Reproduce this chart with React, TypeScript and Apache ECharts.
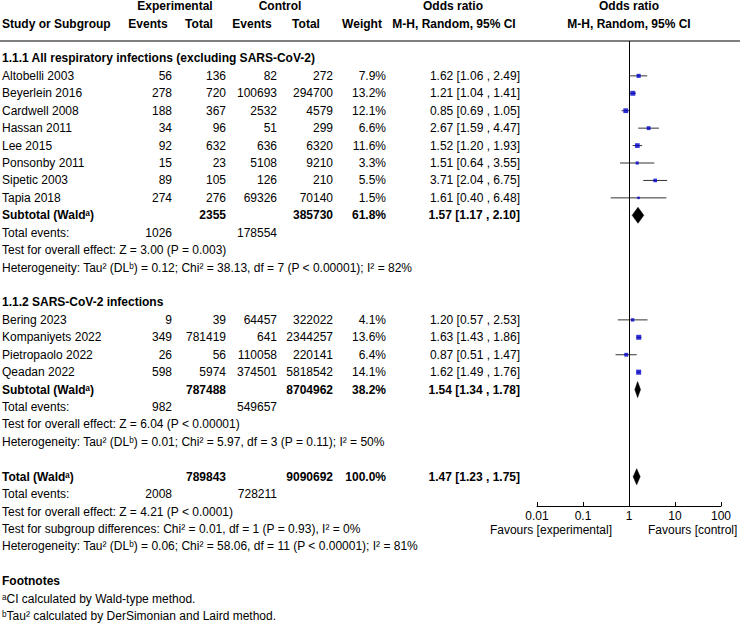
import React, { useEffect, useRef } from "react";
import * as echarts from "echarts";

// ---------- data ----------
const group1Title = "1.1.1 All respiratory infections (excluding SARS-CoV-2)";
const studies1 = ["Altobelli 2003", "Beyerlein 2016", "Cardwell 2008", "Hassan 2011", "Lee 2015", "Ponsonby 2011", "Sipetic 2003", "Tapia 2018"];
const expEvents1 = [56, 278, 188, 34, 92, 15, 89, 274];
const expTotal1 = [136, 720, 367, 96, 632, 23, 105, 276];
const ctlEvents1 = [82, 100693, 2532, 51, 636, 5108, 126, 69326];
const ctlTotal1 = [272, 294700, 4579, 299, 6320, 9210, 210, 70140];
const weight1 = [7.9, 13.2, 12.1, 6.6, 11.6, 3.3, 5.5, 1.5];
const or1 = [1.62, 1.21, 0.85, 2.67, 1.52, 1.51, 3.71, 1.61];
const lo1 = [1.06, 1.04, 0.69, 1.59, 1.2, 0.64, 2.04, 0.4];
const hi1 = [2.49, 1.41, 1.05, 4.47, 1.93, 3.55, 6.75, 6.48];

const group2Title = "1.1.2 SARS-CoV-2 infections";
const studies2 = ["Bering 2023", "Kompaniyets 2022", "Pietropaolo 2022", "Qeadan 2022"];
const expEvents2 = [9, 349, 26, 598];
const expTotal2 = [39, 781419, 56, 5974];
const ctlEvents2 = [64457, 641, 110058, 374501];
const ctlTotal2 = [322022, 2344257, 220141, 5818542];
const weight2 = [4.1, 13.6, 6.4, 14.1];
const or2 = [1.2, 1.63, 0.87, 1.62];
const lo2 = [0.57, 1.43, 0.51, 1.49];
const hi2 = [2.53, 1.86, 1.47, 1.76];

// pooled: subgroup 1, subgroup 2, overall
const pooledLabels = ["Subtotal (Waldᵃ)", "Subtotal (Waldᵃ)", "Total (Waldᵃ)"];
const pooledExpTotal = [2355, 787488, 789843];
const pooledCtlTotal = [385730, 8704962, 9090692];
const pooledWeight = [61.8, 38.2, 100.0];
const pooledOR = [1.57, 1.54, 1.47];
const pooledLo = [1.17, 1.34, 1.23];
const pooledHi = [2.1, 1.78, 1.75];
const pooledExpEvents = [1026, 982, 2008];
const pooledCtlEvents = [178554, 549657, 728211];

const stats1 = [
  "Test for overall effect: Z = 3.00 (P = 0.003)",
  "Heterogeneity: Tau² (DLᵇ) = 0.12; Chi² = 38.13, df = 7 (P < 0.00001); I² = 82%",
];
const stats2 = [
  "Test for overall effect: Z = 6.04 (P < 0.00001)",
  "Heterogeneity: Tau² (DLᵇ) = 0.01; Chi² = 5.97, df = 3 (P = 0.11); I² = 50%",
];
const statsTotal = [
  "Test for overall effect: Z = 4.21 (P < 0.0001)",
  "Test for subgroup differences: Chi² = 0.01, df = 1 (P = 0.93), I² = 0%",
  "Heterogeneity: Tau² (DLᵇ) = 0.06; Chi² = 58.06, df = 11 (P < 0.00001); I² = 81%",
];
const footnotes = ["ᵃCI calculated by Wald-type method.", "ᵇTau² calculated by DerSimonian and Laird method."];

const xTickLabels = ["0.01", "0.1", "1", "10", "100"];
const favoursLabels = ["Favours [experimental]", "Favours [control]"];

// ---------- layout ----------
const FONT = '"Liberation Sans", Arial, Helvetica, sans-serif';
const GRID_TOP = 41;
const AXIS_Y = 506;
const ROW_H = 17.43;
const Y_MIN = 2;
const Y_MAX = Y_MIN + (AXIS_Y - GRID_TOP) / ROW_H;
const rowY = (r: number) => GRID_TOP + (r - Y_MIN) * ROW_H;
const COL = { name: 2, expE: 172, expT: 226, ctlE: 277, ctlT: 333, wt: 386, or: 520 };

const fmtCI = (o: number, l: number, h: number) => `${o.toFixed(2)} [${l.toFixed(2)} , ${h.toFixed(2)}]`;
const fmtW = (w: number) => `${w.toFixed(1)}%`;

function txt(x: number, y: number, text: string, align = "left", bold = false, size = 12) {
  return {
    type: "text",
    x,
    y,
    silent: true,
    style: {
      text,
      fill: "#000",
      font: `${bold ? "bold " : ""}${size}px ${FONT}`,
      textAlign: align,
      align,
      textVerticalAlign: "middle",
      verticalAlign: "middle",
    },
  };
}

function buildGraphics() {
  const g: any[] = [];
  // headers
  const r0 = rowY(0), r1 = rowY(1);
  g.push(txt(175, r0, "Experimental", "center", true));
  g.push(txt(280, r0, "Control", "center", true));
  g.push(txt(453, r0, "Odds ratio", "center", true));
  g.push(txt(629, r0, "Odds ratio", "center", true));
  g.push(txt(COL.name, r1, "Study or Subgroup", "left", true));
  g.push(txt(148, r1, "Events", "center", true));
  g.push(txt(199, r1, "Total", "center", true));
  g.push(txt(252, r1, "Events", "center", true));
  g.push(txt(306, r1, "Total", "center", true));
  g.push(txt(362, r1, "Weight", "center", true));
  g.push(txt(454, r1, "M-H, Random, 95% CI", "center", true));
  g.push(txt(629, r1, "M-H, Random, 95% CI", "center", true));
  g.push({
    type: "line",
    silent: true,
    shape: { x1: 0, y1: GRID_TOP, x2: 740, y2: GRID_TOP },
    style: { stroke: "#555", lineWidth: 1.6 },
  });

  const groups = [
    { title: group1Title, start: 3, names: studies1, eE: expEvents1, eT: expTotal1, cE: ctlEvents1, cT: ctlTotal1, w: weight1, o: or1, l: lo1, h: hi1, stats: stats1 },
    { title: group2Title, start: 17, names: studies2, eE: expEvents2, eT: expTotal2, cE: ctlEvents2, cT: ctlTotal2, w: weight2, o: or2, l: lo2, h: hi2, stats: stats2 },
  ];
  groups.forEach((gr, gi) => {
    g.push(txt(COL.name, rowY(gr.start), gr.title, "left", true));
    gr.names.forEach((n, i) => {
      const y = rowY(gr.start + 1 + i);
      g.push(txt(COL.name, y, n));
      g.push(txt(COL.expE, y, String(gr.eE[i]), "right"));
      g.push(txt(COL.expT, y, String(gr.eT[i]), "right"));
      g.push(txt(COL.ctlE, y, String(gr.cE[i]), "right"));
      g.push(txt(COL.ctlT, y, String(gr.cT[i]), "right"));
      g.push(txt(COL.wt, y, fmtW(gr.w[i]), "right"));
      g.push(txt(COL.or, y, fmtCI(gr.o[i], gr.l[i], gr.h[i]), "right"));
    });
    const sr = gr.start + 1 + gr.names.length;
    pooledRows(g, gi, sr);
    gr.stats.forEach((s, k) => g.push(txt(COL.name, rowY(sr + 2 + k), s)));
  });
  pooledRows(g, 2, 27);
  statsTotal.forEach((s, k) => g.push(txt(COL.name, rowY(29 + k), s)));

  g.push(txt(COL.name, rowY(33), "Footnotes", "left", true));
  footnotes.forEach((f, k) => g.push(txt(COL.name, rowY(34 + k), f)));

  g.push(txt(612, 529.5, favoursLabels[0], "right", false, 12));
  g.push(txt(648, 529.5, favoursLabels[1], "left", false, 12));
  return g;
}

function pooledRows(g: any[], idx: number, r: number) {
  const y = rowY(r);
  g.push(txt(COL.name, y, pooledLabels[idx], "left", true));
  g.push(txt(COL.expT, y, String(pooledExpTotal[idx]), "right", true));
  g.push(txt(COL.ctlT, y, String(pooledCtlTotal[idx]), "right", true));
  g.push(txt(COL.wt, y, fmtW(pooledWeight[idx]), "right", true));
  g.push(txt(COL.or, y, fmtCI(pooledOR[idx], pooledLo[idx], pooledHi[idx]), "right", true));
  const y2 = rowY(r + 1);
  g.push(txt(COL.name, y2, "Total events:"));
  g.push(txt(COL.expE, y2, String(pooledExpEvents[idx]), "right"));
  g.push(txt(COL.ctlE, y2, String(pooledCtlEvents[idx]), "right"));
}

function buildOption() {
  const studyRows1 = studies1.map((_, i) => 4 + i);
  const studyRows2 = studies2.map((_, i) => 18 + i);
  const ciData: number[][] = [];
  const pointData: number[][] = [];
  studyRows1.forEach((r, i) => {
    ciData.push([lo1[i], hi1[i], r]);
    pointData.push([or1[i], r, weight1[i]]);
  });
  studyRows2.forEach((r, i) => {
    ciData.push([lo2[i], hi2[i], r]);
    pointData.push([or2[i], r, weight2[i]]);
  });
  const pooledRowsIdx = [12, 22, 27];
  const diamondData = pooledOR.map((o, i) => [o, pooledLo[i], pooledHi[i], pooledRowsIdx[i]]);

  return {
    animation: false,
    grid: { left: 537, right: 19, top: GRID_TOP, bottom: 625 - AXIS_Y, containLabel: false },
    xAxis: {
      type: "log",
      logBase: 10,
      min: 0.01,
      max: 100,
      splitLine: { show: false },
      minorTick: { show: false },
      axisLine: { show: true, lineStyle: { color: "#000", width: 1 } },
      axisTick: { show: true, inside: true, length: 4, lineStyle: { color: "#000", width: 1 } },
      axisLabel: {
        color: "#000",
        fontSize: 12,
        fontFamily: FONT,
        margin: 4,
        formatter: (v: number) => xTickLabels[Math.round(Math.log10(v)) + 2] ?? "",
      },
    },
    yAxis: {
      type: "value",
      min: Y_MIN,
      max: Y_MAX,
      inverse: true,
      show: false,
      splitLine: { show: false },
    },
    graphic: buildGraphics(),
    series: [
      {
        type: "custom",
        name: "CI",
        silent: true,
        encode: { x: [0, 1], y: 2 },
        data: ciData,
        renderItem: (params: any, api: any) => {
          const a = api.coord([api.value(0), api.value(2)]);
          const b = api.coord([api.value(1), api.value(2)]);
          return {
            type: "line",
            shape: { x1: a[0], y1: a[1], x2: b[0], y2: b[1] },
            style: { stroke: "#333", lineWidth: 1 },
          };
        },
      },
      {
        type: "scatter",
        name: "Studies",
        silent: true,
        symbol: "rect",
        symbolSize: (v: number[]) => 1.3 + Math.sqrt(v[2]),
        itemStyle: { color: "#0000cc" },
        data: pointData,
        markLine: {
          silent: true,
          symbol: ["none", "none"],
          label: { show: false },
          lineStyle: { color: "#000", width: 1, type: "solid" },
          data: [{ xAxis: 1 }],
        },
      },
      {
        type: "custom",
        name: "Pooled",
        silent: true,
        encode: { x: [0, 1, 2], y: 3 },
        data: diamondData,
        renderItem: (params: any, api: any) => {
          const r = api.value(3);
          const c = api.coord([api.value(0), r]);
          const l = api.coord([api.value(1), r]);
          const h = api.coord([api.value(2), r]);
          const hh = 8;
          return {
            type: "polygon",
            shape: { points: [[l[0], c[1]], [c[0], c[1] - hh], [h[0], c[1]], [c[0], c[1] + hh]] },
            style: { fill: "#000", stroke: "#000", lineWidth: 0.5 },
          };
        },
      },
    ],
  };
}

export default function App() {
  const ref = useRef<HTMLDivElement>(null);
  useEffect(() => {
    if (!ref.current) return;
    const chart = echarts.init(ref.current, undefined, { renderer: "svg" });
    chart.setOption(buildOption() as any);
    return () => chart.dispose();
  }, []);
  return (
    <div
      ref={ref}
      style={{ position: "absolute", left: 0, top: 0, width: 740, height: 625, background: "#fff" }}
    />
  );
}
